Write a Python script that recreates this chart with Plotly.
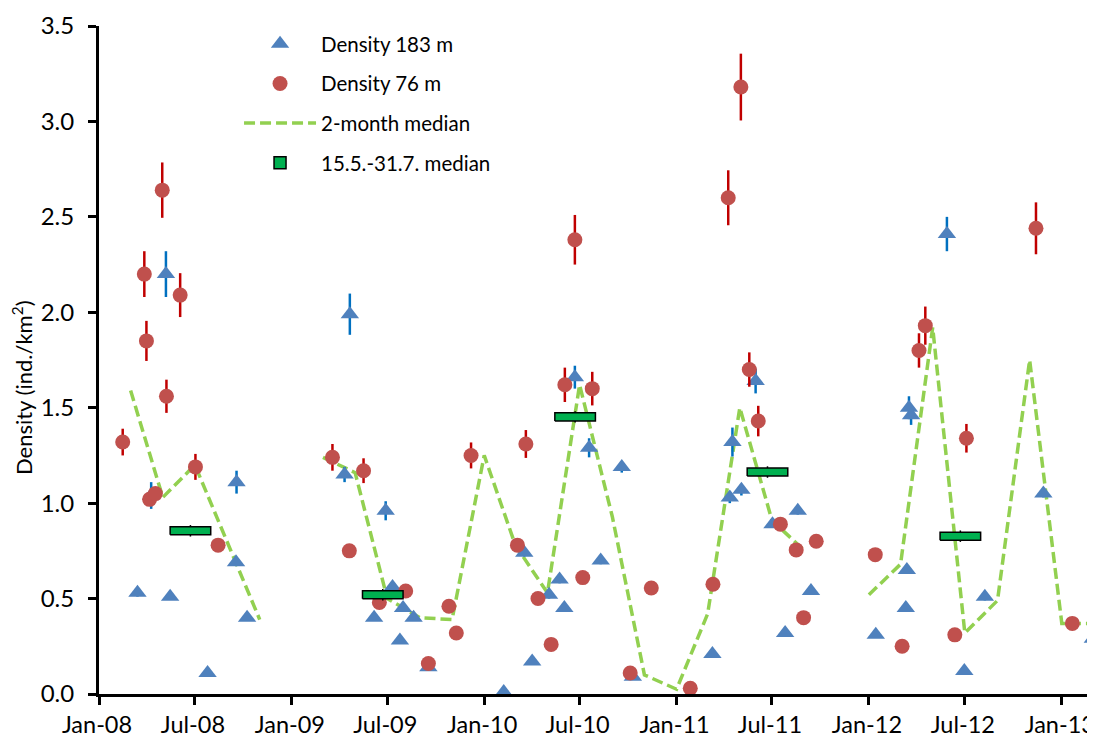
import plotly.graph_objects as go
from datetime import datetime

# ---------------- data ----------------
# Density at 183 m (blue triangles)
d183_dates = ["2008-03-14", "2008-04-09", "2008-05-07", "2008-05-15", "2008-07-25", "2008-09-18",
              "2008-09-17", "2008-10-08", "2009-04-21", "2009-04-11", "2009-06-28", "2009-06-06",
              "2009-07-11", "2009-07-31", "2009-07-25", "2009-08-20", "2009-09-17", "2010-02-07",
              "2010-03-18", "2010-04-02", "2010-05-04", "2010-05-24", "2010-06-02", "2010-06-22",
              "2010-07-19", "2010-08-10", "2010-09-19", "2010-10-10", "2011-03-10", "2011-04-12",
              "2011-05-04", "2011-04-17", "2011-05-31", "2011-07-02", "2011-08-19", "2011-07-26",
              "2011-09-13", "2012-01-14", "2012-03-13", "2012-03-11", "2012-03-17", "2012-03-21",
              "2012-05-28", "2012-06-30", "2012-08-08", "2012-11-27", "2013-03-01"]
d183_vals = [0.53, 1.04, 2.20, 0.51, 0.11, 1.11,
             0.69, 0.40, 1.99, 1.15, 0.96, 0.40,
             0.56, 0.45, 0.28, 0.40, 0.14, 0.01,
             0.74, 0.17, 0.52, 0.60, 0.45, 1.66,
             1.29, 0.70, 1.19, 0.09, 0.21, 1.03,
             1.07, 1.32, 1.64, 0.89, 0.96, 0.32,
             0.54, 0.31, 0.65, 0.45, 1.50, 1.46,
             2.41, 0.12, 0.51, 1.05, 0.29]
d183_err = [0.02, 0.07, 0.12, 0.01, 0.01, 0.06,
            0.02, 0.01, 0.108, 0.04, 0.05, 0.01,
            0.02, 0.02, 0.01, 0.01, 0.01, 0.005,
            0.02, 0.01, 0.02, 0.02, 0.02, 0.06,
            0.05, 0.02, 0.03, 0.01, 0.01, 0.03,
            0.03, 0.076, 0.065, 0.02, 0.02, 0.01,
            0.02, 0.01, 0.02, 0.02, 0.06, 0.05,
            0.09, 0.01, 0.02, 0.02, 0.01]

# Density at 76 m (red circles)
d76_dates = ["2008-02-15", "2008-03-27", "2008-03-31", "2008-04-06", "2008-04-17", "2008-04-30",
             "2008-05-08", "2008-06-03", "2008-07-02", "2008-08-14", "2009-03-19", "2009-04-20",
             "2009-05-17", "2009-06-16", "2009-08-05", "2009-09-17", "2009-10-26", "2009-11-09",
             "2009-12-07", "2010-03-05", "2010-03-21", "2010-04-13", "2010-05-08", "2010-06-03",
             "2010-06-22", "2010-07-07", "2010-07-25", "2010-10-05", "2010-11-14", "2011-01-27",
             "2011-03-11", "2011-04-09", "2011-05-03", "2011-05-19", "2011-06-05", "2011-07-17",
             "2011-08-16", "2011-08-30", "2011-09-23", "2012-01-13", "2012-03-04", "2012-04-05",
             "2012-04-17", "2012-06-12", "2012-07-04", "2012-11-13", "2013-01-21"]
d76_vals = [1.32, 2.20, 1.85, 1.02, 1.05, 2.64,
            1.56, 2.09, 1.19, 0.78, 1.24, 0.75,
            1.17, 0.48, 0.54, 0.16, 0.46, 0.32,
            1.25, 0.78, 1.31, 0.50, 0.26, 1.62,
            2.38, 0.61, 1.60, 0.11, 0.555, 0.03,
            0.575, 2.60, 3.18, 1.70, 1.43, 0.89,
            0.755, 0.40, 0.80, 0.73, 0.25, 1.80,
            1.93, 0.31, 1.34, 2.44, 0.37]
d76_err = [0.07, 0.12, 0.105, 0.03, 0.03, 0.145,
           0.087, 0.115, 0.068, 0.02, 0.07, 0.02,
           0.065, 0.02, 0.02, 0.01, 0.02, 0.01,
           0.068, 0.02, 0.073, 0.02, 0.01, 0.09,
           0.13, 0.02, 0.088, 0.01, 0.02, 0.01,
           0.02, 0.144, 0.175, 0.09, 0.08, 0.025,
           0.02, 0.01, 0.025, 0.02, 0.01, 0.09,
           0.10, 0.01, 0.075, 0.136, 0.01]

# 2-month median (None = gap in the line)
med2_dates = ["2008-03-01", "2008-05-01", "2008-07-01", "2008-09-01", "2008-11-01", "2009-01-01",
              "2009-03-01", "2009-05-01", "2009-07-01", "2009-09-01", "2009-11-01", "2010-01-01",
              "2010-03-01", "2010-05-01", "2010-07-01", "2010-09-01", "2010-11-01", "2011-01-01",
              "2011-03-01", "2011-05-01", "2011-07-01", "2011-09-01", "2011-11-01",
              "2012-01-01", "2012-03-01", "2012-05-01", "2012-07-01", "2012-09-01", "2012-11-01",
              "2013-01-01", "2013-03-01"]
med2_vals = [1.59, 1.03, 1.20, 0.79, 0.39, None,
             1.24, 1.16, 0.50, 0.40, 0.39, 1.25,
             0.78, 0.53, 1.62, 0.93, 0.10, 0.025,
             0.42, 1.50, 0.91, 0.75, None,
             0.52, 0.68, 1.92, 0.32, 0.49, 1.75,
             0.37, 0.37]

# 15.5.-31.7. median
summer_years = [2008, 2009, 2010, 2011, 2012]
summer_vals = [0.855, 0.52, 1.452, 1.163, 0.827]
summer_err = [0.03, 0.03, 0.03, 0.03, 0.03]

# tick labels
y_ticks = [0.0, 0.5, 1.0, 1.5, 2.0, 2.5, 3.0, 3.5]

# ---------------- styling ----------------
FONT = "Lato"
RED_M = "#C0504D"
RED_E = "#C00000"
BLUE_M = "#4F81BD"
BLUE_E = "#0070C0"
LGREEN = "#92D050"
DGREEN = "#00B050"

fig = go.Figure()

fig.add_trace(go.Scatter(
    x=med2_dates, y=med2_vals, mode="lines", name="2-month median",
    line=dict(color=LGREEN, width=3.5, dash="11px,5px"), connectgaps=False,
    legendrank=3, legendgroup="g3"))

fig.add_trace(go.Scatter(
    x=d183_dates, y=d183_vals, mode="markers", name="Density 183 m",
    marker=dict(symbol="triangle-up", size=16, color=BLUE_M, line=dict(width=0)),
    error_y=dict(type="data", array=d183_err, visible=True, color=BLUE_E, thickness=2.5, width=0),
    legendrank=1, legendgroup="g1"))

fig.add_trace(go.Scatter(
    x=d76_dates, y=d76_vals, mode="markers", name="Density 76 m",
    marker=dict(symbol="circle", size=15, color=RED_M, line=dict(width=0)),
    error_y=dict(type="data", array=d76_err, visible=True, color=RED_E, thickness=2.5, width=0),
    legendrank=2, legendgroup="g2"))

# summer median: 15 May - 31 Jul boxes
starts = [datetime(y, 5, 15) for y in summer_years]
ends = [datetime(y, 7, 31) for y in summer_years]
mids = [s + (e - s) / 2 for s, e in zip(starts, ends)]

# small error ticks (drawn first, boxes drawn over them)
fig.add_trace(go.Scatter(
    x=mids, y=summer_vals, mode="markers", showlegend=False, hoverinfo="skip",
    marker=dict(size=1, color="rgba(0,0,0,0)"),
    error_y=dict(type="data", array=summer_err, visible=True, color="black", thickness=1.5, width=0)))

half_h = 0.021
bx, by = [], []
for s, e, v in zip(starts, ends, summer_vals):
    bx += [s, e, e, s, s, None]
    by += [v - half_h, v - half_h, v + half_h, v + half_h, v - half_h, None]
fig.add_trace(go.Scatter(
    x=bx, y=by, mode="lines", fill="toself", fillcolor=DGREEN,
    line=dict(color="black", width=1.5), showlegend=False, hoverinfo="skip"))

# legend entry for the summer median
fig.add_trace(go.Bar(
    x=[None], y=[None], name="15.5.-31.7. median",
    marker=dict(color=DGREEN, line=dict(color="black", width=1.5)),
    legendrank=4, legendgroup="g4"))

fig.update_layout(
    width=1087, height=730,
    margin=dict(l=91, r=0, t=18, b=44),
    paper_bgcolor="white", plot_bgcolor="white",
    font=dict(family=FONT, size=21, color="black"),
    showlegend=True,
    legend=dict(x=0.1406, y=1.003, xanchor="left", yanchor="top",
                font=dict(size=20.5), tracegroupgap=10, bgcolor="rgba(0,0,0,0)",
                itemwidth=72),
)

fig.update_xaxes(
    type="date", range=["2008-01-01", "2013-03-05"],
    tick0="2008-01-01", dtick="M6", tickformat="%b-%y",
    showgrid=False, zeroline=False,
    showline=True, linecolor="black", linewidth=3,
    ticks="outside", ticklen=8, tickwidth=2.5, tickcolor="black",
    tickfont=dict(size=23.5, family=FONT), ticklabelstandoff=0, automargin=False,
    ticklabeloverflow="allow", ticklabelshift=-2)

fig.update_yaxes(
    range=[0, 3.5], tickvals=y_ticks, tickformat=".1f",
    showgrid=False, zeroline=False,
    showline=True, linecolor="black", linewidth=3,
    ticks="outside", ticklen=8, tickwidth=2.5, tickcolor="black",
    tickfont=dict(size=24, family=FONT), ticklabelstandoff=9, automargin=False)

fig.add_annotation(
    text="Density (ind./km<sup>2</sup>)", textangle=-90,
    xref="paper", yref="paper", x=0, y=0.458, xshift=-77,
    xanchor="center", yanchor="middle", showarrow=False,
    font=dict(size=22, family=FONT, color="black"))

fig.write_html("out.html")
